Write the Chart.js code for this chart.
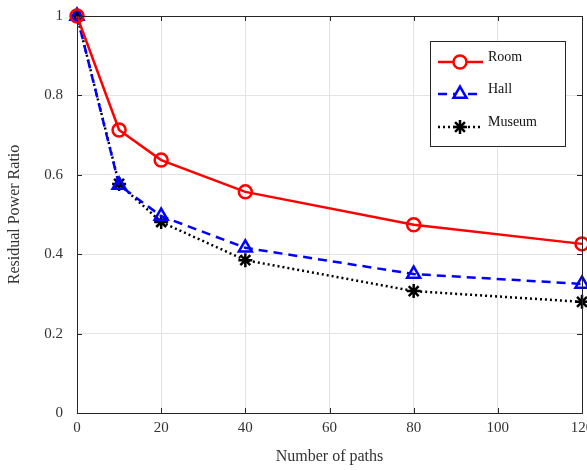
<!DOCTYPE html>
<html>
<head>
<meta charset="utf-8">
<script src="https://cdn.jsdelivr.net/npm/chart.js@4.4.1/dist/chart.umd.min.js"></script>
<style>
  html, body { margin: 0; padding: 0; background: #fff; }
  #wrap { width: 587px; height: 470px; }
</style>
</head>
<body>
<div id="wrap"><canvas id="chart" width="587" height="470"></canvas></div>
<script>
// values
const paths  = [0, 10, 20, 40, 80, 120];
const room   = [1, 0.713, 0.637, 0.557, 0.474, 0.426];
const hall   = [1, 0.574, 0.496, 0.416, 0.350, 0.325];
const museum = [1, 0.577, 0.481, 0.385, 0.307, 0.280];
const xTicks = [0, 20, 40, 60, 80, 100, 120];
const yTicks = [0, 0.2, 0.4, 0.6, 0.8, 1];

const FONT = '"Liberation Serif", "Times New Roman", serif';
const toXY = arr => arr.map((v, i) => ({ x: paths[i], y: v }));

const series = [
  { label: 'Room',   data: room,   color: '#ff0000', dash: [],     style: 'circle',   r: 6.5 },
  { label: 'Hall',   data: hall,   color: '#0000ff', dash: [9, 6], style: 'triangle', r: 7.5 },
  { label: 'Museum', data: museum, color: '#000000', dash: [2, 3], style: 'star',     r: 7 }
];

// frame, inward ticks and legend like the matlab figure
const frameAndLegend = {
  id: 'frameAndLegend',
  afterDatasetsDraw(chart) {
    const { ctx, chartArea: a, scales } = chart;
    ctx.save();
    ctx.strokeStyle = '#262626';
    ctx.lineWidth = 1;
    ctx.setLineDash([]);
    ctx.strokeRect(a.left + 0.5, a.top + 0.5, a.right - a.left, a.bottom - a.top);
    ctx.beginPath();
    xTicks.forEach(t => {
      const px = Math.round(scales.x.getPixelForValue(t)) + 0.5;
      ctx.moveTo(px, a.bottom); ctx.lineTo(px, a.bottom - 5);
      ctx.moveTo(px, a.top);    ctx.lineTo(px, a.top + 5);
    });
    yTicks.forEach(t => {
      const py = Math.round(scales.y.getPixelForValue(t)) + 0.5;
      ctx.moveTo(a.left, py);  ctx.lineTo(a.left + 5, py);
      ctx.moveTo(a.right, py); ctx.lineTo(a.right - 5, py);
    });
    ctx.stroke();

    // legend box
    const bx = 430, by = 41, bw = 135, bh = 105;
    ctx.fillStyle = '#fff';
    ctx.fillRect(bx, by, bw, bh);
    ctx.strokeStyle = '#262626';
    ctx.strokeRect(bx + 0.5, by + 0.5, bw, bh);
    const rowsY = [62, 94, 127];
    series.forEach((s, i) => {
      const y = rowsY[i];
      ctx.strokeStyle = s.color;
      ctx.lineWidth = 2.5;
      ctx.setLineDash(s.dash);
      ctx.beginPath();
      ctx.moveTo(438, y); ctx.lineTo(483, y);
      ctx.stroke();
      ctx.setLineDash([]);
      ctx.fillStyle = '#fff';
      ctx.strokeStyle = s.color;
      ctx.lineWidth = 2.5;
      Chart.helpers.drawPoint(ctx, { pointStyle: s.style, radius: s.r, borderWidth: 2.5 }, 460, y);
      ctx.fillStyle = '#111';
      ctx.font = '14px ' + FONT;
      ctx.textAlign = 'left';
      ctx.textBaseline = 'middle';
      ctx.fillText(s.label, 488, y - 5);
    });
    ctx.restore();
  }
};

new Chart(document.getElementById('chart'), {
  type: 'line',
  data: {
    datasets: series.map(s => ({
      label: s.label,
      data: toXY(s.data),
      borderColor: s.color,
      backgroundColor: '#fff',
      borderWidth: 2.5,
      borderDash: s.dash,
      pointStyle: s.style,
      pointRadius: s.r,
      pointBorderWidth: 2.5,
      pointBorderColor: s.color,
      pointBackgroundColor: 'rgba(0,0,0,0)',
      tension: 0,
      fill: false,
      clip: false
    }))
  },
  options: {
    responsive: false,
    animation: false,
    devicePixelRatio: 1,
    layout: { autoPadding: false, padding: { top: 16, right: 5, left: 0, bottom: 0 } },
    plugins: { legend: { display: false }, tooltip: { enabled: false } },
    scales: {
      x: {
        type: 'linear',
        min: 0, max: 120,
        afterBuildTicks: s => { s.ticks = xTicks.map(v => ({ value: v })); },
        afterFit: s => { s.height = 57; s.paddingLeft = 0; s.paddingRight = 0; },
        grid: { color: '#e3e3e3', drawTicks: false },
        border: { display: false },
        ticks: { color: '#333', padding: 6, font: { family: FONT, size: 15 } },
        title: { display: true, text: 'Number of paths', color: '#333', padding: { top: 6 }, font: { family: FONT, size: 16 } }
      },
      y: {
        min: 0, max: 1,
        afterBuildTicks: s => { s.ticks = yTicks.map(v => ({ value: v })); },
        afterFit: s => { s.width = 77; s.paddingTop = 0; s.paddingBottom = 0; },
        grid: { color: '#e3e3e3', drawTicks: false },
        border: { display: false },
        ticks: {
          color: '#333', padding: 14, font: { family: FONT, size: 15 },
          callback: v => String(Math.round(v * 10) / 10)
        },
        title: { display: true, text: 'Residual Power Ratio', color: '#333', padding: { top: 5, bottom: 4 }, font: { family: FONT, size: 16 } }
      }
    }
  },
  plugins: [frameAndLegend]
});
</script>
</body>
</html>
